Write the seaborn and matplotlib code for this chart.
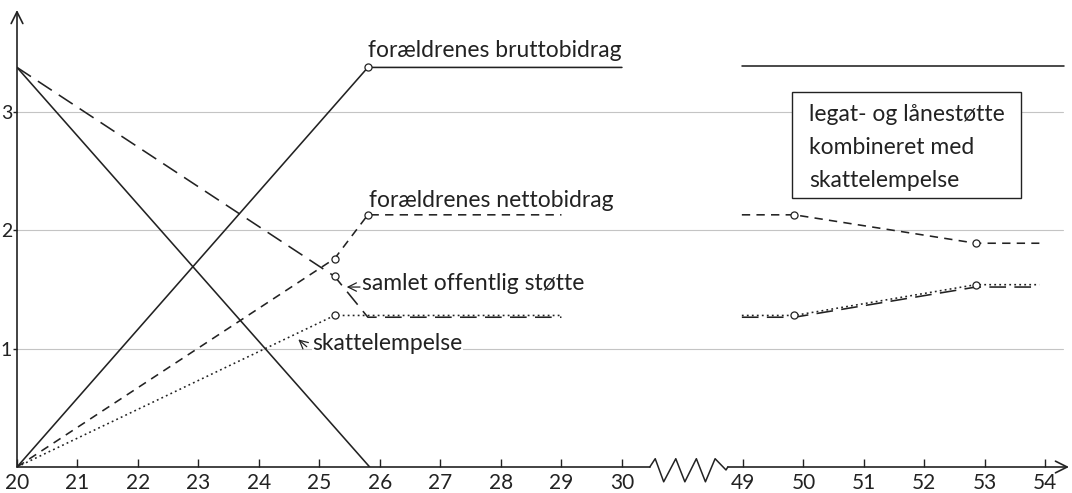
import numpy as np
import pandas as pd
import matplotlib as mpl; mpl.use("Agg")
import matplotlib.pyplot as plt
from matplotlib.patches import Rectangle
import seaborn as sns

# --- data (alder, værdi) -----------------------------------------------------
# forældrenes bruttobidrag (fuldt optrukket)
brutto_alder = [20, 25.8, 30, 48.87, 54.3]
brutto_vaerdi = [0, 3.375, 3.375, 3.39, 3.39]
brutto_del = ["a", "a", "a", "b", "b"]

# faldende linje uden navn (fuldt optrukket)
fald_alder = [20, 25.83]
fald_vaerdi = [3.375, 0]

# forældrenes nettobidrag (kort stiplet)
netto_alder = [20, 25.25, 25.8, 29, 48.83, 49.85, 52.85, 53.9]
netto_vaerdi = [0, 1.76, 2.13, 2.13, 2.13, 2.13, 1.89, 1.89]
netto_del = ["a", "a", "a", "a", "b", "b", "b", "b"]

# samlet offentlig støtte (lang stiplet)
samlet_alder = [20, 25.25, 25.8, 29, 48.83, 49.85, 52.85, 53.9]
samlet_vaerdi = [3.375, 1.61, 1.265, 1.265, 1.265, 1.265, 1.52, 1.52]
samlet_del = ["a", "a", "a", "a", "b", "b", "b", "b"]

# skattelempelse (prikket)
skat_alder = [20, 25.25, 29, 48.83, 49.85, 52.85, 53.9]
skat_vaerdi = [0, 1.28, 1.28, 1.28, 1.28, 1.54, 1.54]
skat_del = ["a", "a", "a", "b", "b", "b", "b"]

# små cirkler
cirkel_alder = [25.8, 25.25, 25.8, 49.85, 52.85, 25.25, 25.25, 49.85, 52.85]
cirkel_vaerdi = [3.375, 1.76, 2.13, 2.13, 1.89, 1.61, 1.28, 1.28, 1.54]

x_ticks = [20, 21, 22, 23, 24, 25, 26, 27, 28, 29, 30, 49, 50, 51, 52, 53, 54]
y_ticks = [1, 2, 3]

boks_tekst = ["legat- og lånestøtte", "kombineret med", "skattelempelse"]


# --- afbrudt x-akse: 30 -> 49 trykkes sammen -----------------------------------
def fremad(a):
    a = np.asarray(a, dtype=float)
    return np.where(a <= 30, a - 20, np.where(a >= 49, a - 37, 10 + (a - 30) * 2 / 19))


def tilbage(p):
    p = np.asarray(p, dtype=float)
    return np.where(p <= 10, p + 20, np.where(p >= 12, p + 37, 30 + (p - 10) * 19 / 2))


sns.set_theme(style="white")
plt.rcParams["font.family"] = ["Lato", "DejaVu Sans"]
plt.rcParams["lines.scale_dashes"] = False

INK = "#222222"

fig = plt.figure(figsize=(10.72, 4.93), dpi=100)
ax = fig.add_axes([17 / 1072, 26 / 493, 1052 / 1072, 457 / 493])
ax.set_xscale("function", functions=(fremad, tilbage))
ax.set_xlim(20, 54.39)
ax.set_ylim(0, 3.86)

for s in ax.spines.values():
    s.set_visible(False)

# gitterlinjer
for yv in y_ticks:
    ax.axhline(yv, xmin=0, xmax=0.994, color="#c4c4c4", lw=0.8, zorder=0)


def linje(alder, vaerdi, dele, ls):
    df = pd.DataFrame({"alder": alder, "vaerdi": vaerdi, "del": dele})
    sns.lineplot(data=df, x="alder", y="vaerdi", units="del", estimator=None,
                 sort=False, color=INK, lw=1.15, linestyle=ls, ax=ax,
                 legend=False, zorder=2)


linje(brutto_alder, brutto_vaerdi, brutto_del, "-")
linje(fald_alder, fald_vaerdi, ["a"] * len(fald_alder), "-")
linje(netto_alder, netto_vaerdi, netto_del, (0, (6, 4.5)))
linje(samlet_alder, samlet_vaerdi, samlet_del, (0, (12, 6)))
linje(skat_alder, skat_vaerdi, skat_del, (0, (1.3, 2.3)))

sns.scatterplot(x=cirkel_alder, y=cirkel_vaerdi, ax=ax, s=26, color="white",
                edgecolor=INK, linewidth=0.9, zorder=5, legend=False)

# akser med pile
ax.annotate("", xy=(0, 1), xytext=(0, 0), xycoords="axes fraction",
            arrowprops=dict(arrowstyle="->,head_length=0.7,head_width=0.35",
                            lw=1.2, color=INK, shrinkA=0, shrinkB=0))
zig_p = [10.46, 10.55, 10.69, 10.89, 11.04, 11.23, 11.38, 11.54, 11.72, 11.75]
zig_y = [0, 0.07, -0.125, 0.07, -0.125, 0.07, -0.125, 0.07, -0.025, 0]
ax.plot([20, float(tilbage(10.46))], [0, 0], color=INK, lw=1.2, clip_on=False)
ax.plot(tilbage(zig_p), zig_y, color=INK, lw=1.1, clip_on=False)
ax.annotate("", xy=(1, 0), xycoords="axes fraction",
            xytext=(float(tilbage(11.75)), 0), textcoords="data",
            arrowprops=dict(arrowstyle="->,head_length=0.7,head_width=0.35",
                            lw=1.2, color=INK, shrinkA=0, shrinkB=0))

ax.set_xticks(x_ticks)
ax.set_xticklabels([str(t) for t in x_ticks])
ax.set_yticks(y_ticks)
ax.set_yticklabels([str(t) for t in y_ticks])
ax.tick_params(axis="x", direction="in", length=6, width=1, color=INK,
               labelsize=15, labelcolor=INK, pad=4, bottom=True)
ax.tick_params(axis="y", direction="out", length=3, width=1, color=INK,
               labelsize=14, labelcolor=INK, pad=0.5, left=True)
ax.set_xlabel("")
ax.set_ylabel("")

# tekster
tf = dict(fontsize=16.5, color=INK, zorder=6)
ax.text(25.8, 3.465, "forældrenes bruttobidrag", ha="left", va="baseline", **tf)
ax.text(25.82, 2.2, "forældrenes nettobidrag", ha="left", va="baseline", **tf)
ax.text(25.70, 1.495, "samlet offentlig støtte", ha="left", va="baseline", **tf)
ax.text(24.88, 0.99, "skattelempelse", ha="left", va="baseline",
        bbox=dict(facecolor="white", edgecolor="none", pad=0.5), **tf)
pil = dict(arrowstyle="->,head_length=0.5,head_width=0.25", lw=0.9,
           color=INK, shrinkA=0, shrinkB=0)
ax.annotate("", xy=(25.45, 1.52), xytext=(25.67, 1.52), arrowprops=pil)
ax.annotate("", xy=(24.65, 1.078), xytext=(24.79, 1.016), arrowprops=pil)

# boks
ax.add_patch(Rectangle((49.81, 2.27), 3.79, 0.90, facecolor="white",
                       edgecolor=INK, lw=1.0, zorder=3))
for i, linjetekst in enumerate(boks_tekst):
    ax.text(50.1, 2.98 - i * 0.28, linjetekst, ha="left", va="center", **tf)

fig.savefig("out.png", dpi=100)
